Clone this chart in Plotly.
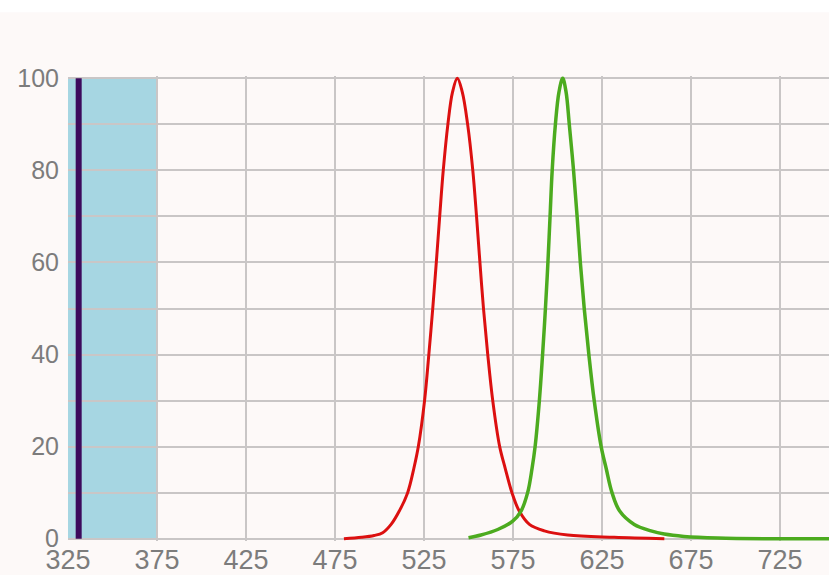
import plotly.graph_objects as go

# ---- data ----
red_wl = [480, 490, 497, 501.8, 506.5, 511.1, 515.8, 519.3, 521.8, 525.3, 527.7, 529.9,
          531.9, 533.8, 535.8, 538.4, 541, 543.7, 546.5, 549.5, 552.4, 554.5, 556.4,
          558.4, 560.8, 563.6, 567.5, 570.6, 574.4, 578.5, 584.2, 592.6, 605.7, 631.8, 660]
red_val = [0, 0.3, 0.7, 1.3, 3.1, 6, 10, 15.3, 20, 30, 40, 50,
           60, 70, 80, 90, 97, 100, 97, 90, 80, 70, 60,
           50, 40, 30, 20, 15.3, 10, 6, 3.1, 1.7, 0.8, 0.3, 0]

green_wl = [550, 557, 566.4, 574.8, 579.5, 583.2, 585.7, 587.4, 589.8, 591.6, 593.2, 594.6,
            595.8, 597.0, 598.8, 600.8, 602.9, 604.8, 606.6, 609.0, 611.0, 612.8, 615.0,
            617.6, 620.6, 624.5, 627.3, 630.6, 634.9, 643.1, 652.5, 660, 671, 690, 720, 800]
green_val = [0.2, 0.8, 2, 3.8, 6, 10, 15.3, 20, 30, 40, 50, 60,
             70, 80, 90, 97, 100, 97, 90, 80, 70, 60, 50,
             40, 30, 20, 15.3, 10, 6, 3.1, 1.7, 1.0, 0.5, 0.15, 0, 0]

excitation_line_wl = 331
excitation_line_val = [0, 100]
band_wl = [325, 375]

x_tickvals = [325, 375, 425, 475, 525, 575, 625, 675, 725]
x_ticktext = ["325", "375", "425", "475", "525", "575", "625", "675", "725"]
y_tickvals = [0, 10, 20, 30, 40, 50, 60, 70, 80, 90, 100]
y_ticktext = ["0", "", "20", "", "40", "", "60", "", "80", "", "100"]

# ---- figure ----
bg = "#fdf9f8"
grid = "#c9c6c6"
txt = "#7c7c7c"

fig = go.Figure()

fig.add_shape(type="rect", xref="x", yref="y",
              x0=band_wl[0], x1=band_wl[1], y0=0, y1=100,
              fillcolor="#a6d6e2", line=dict(width=0), layer="below")

fig.add_trace(go.Scatter(x=[excitation_line_wl, excitation_line_wl], y=excitation_line_val,
                         mode="lines", line=dict(color="#3c0a5c", width=6),
                         showlegend=False, hoverinfo="skip"))

fig.add_trace(go.Scatter(x=red_wl, y=red_val, mode="lines",
                         line=dict(color="#dc1010", width=3, shape="spline", smoothing=1.0),
                         showlegend=False))
fig.add_trace(go.Scatter(x=green_wl, y=green_val, mode="lines",
                         line=dict(color="#4cab1f", width=3.5, shape="spline", smoothing=1.0),
                         showlegend=False))

# white band at the very top of the page
fig.add_shape(type="rect", xref="paper", yref="paper",
              x0=-0.2, x1=1.1, y0=1.137, y1=1.2,
              fillcolor="#ffffff", line=dict(width=0), layer="below")

fig.update_layout(
    width=829, height=575,
    margin=dict(l=68, r=0, t=76, b=32),
    paper_bgcolor=bg, plot_bgcolor=bg,
    font=dict(family="Liberation Sans, Arial, sans-serif", color=txt),
    xaxis=dict(range=[325, 752.5], tickvals=x_tickvals, ticktext=x_ticktext,
               showgrid=True, gridcolor=grid, gridwidth=2,
               zeroline=False, showline=False, ticks="",
               tickfont=dict(size=27, color=txt), ticklabelstandoff=0),
    yaxis=dict(range=[-0.5, 100.5], tickvals=y_tickvals, ticktext=y_ticktext,
               showgrid=True, gridcolor=grid, gridwidth=2,
               zeroline=False, showline=False, ticks="",
               tickfont=dict(size=25, color=txt), ticklabelstandoff=8),
)

fig.write_html("out.html")
